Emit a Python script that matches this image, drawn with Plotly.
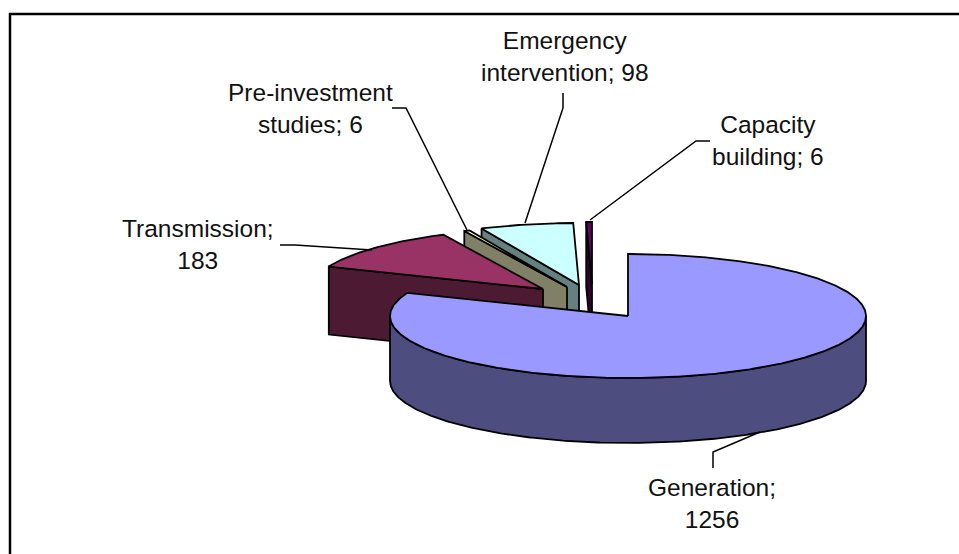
import numpy as np
import plotly.graph_objects as go

labels = ['Generation', 'Transmission', 'Pre-investment studies', 'Emergency intervention', 'Capacity building']
values = [1256, 183, 6, 98, 6]

top_colors = ['#9999FF', '#993366', '#FFFFCC', '#CCFFFF', '#660066']
side_colors = ['#4D4D80', '#4D1A33', '#808066', '#668080', '#330033']

# pie geometry, in picture pixels
CENTER_X, CENTER_Y = 628, 316
RX, RY = 238, 62
# how far each slice is pulled out of the pie, and its small size and depth differences
pull_x = [0, -85, -61, -49, -36]
pull_y = [0, -27, -29, -31, -32]
scale = [1, 0.97, 1, 1, 1]
depth = [65, 68, 65, 65, 65]

label_text = ['Generation;<br>1256', 'Transmission;<br>183', 'Pre-investment<br>studies; 6',
              'Emergency<br>intervention; 98', 'Capacity<br>building; 6']
label_x = [712, 198, 310, 565, 768]
label_y = [503, 244, 108, 56, 140]

leader_x = [[760, 713, 713], [372, 295, 280], [467, 406, 392], [525, 563, 563], [590, 696, 710]]
leader_y = [[432, 452, 468], [250, 245, 245], [230, 108, 108], [223, 108, 93], [220, 141, 141]]


def arc(start, end, cx, cy, k):
    t = np.radians(np.linspace(start, end, max(int(abs(end - start)) * 2, 2)))
    return cx + k * RX * np.sin(t), cy - k * RY * np.cos(t)


def poly(x, y, color):
    return go.Scatter(x=x, y=y, mode='lines', fill='toself', fillcolor=color,
                      line={'color': 'black', 'width': 1.8}, hoverinfo='skip', showlegend=False)


def slice_traces(i, start, end):
    cx, cy = CENTER_X + pull_x[i], CENTER_Y + pull_y[i]
    k, d = scale[i], depth[i]
    traces = []

    # cut face on the side turned to the viewer
    if i > 0:
        rx, ry = arc(start, start, cx, cy, k)
        traces.append(poly([cx, rx[0], rx[0], cx, cx],
                           [cy, ry[0], ry[0] + d, cy + d, cy], side_colors[i]))

    # outer wall, only where the rim is at the front
    lo, hi = max(start, 90), min(end, 270)
    if hi > lo:
        wx, wy = arc(lo, hi, cx, cy, k)
        traces.append(poly(np.r_[wx, wx[::-1], wx[0]], np.r_[wy, wy[::-1] + d, wy[0]], side_colors[i]))

    ax, ay = arc(start, end, cx, cy, k)
    traces.append(poly(np.r_[cx, ax, cx], np.r_[cy, ay, cy], top_colors[i]))
    return traces


fractions = np.array(values) / sum(values) * 360
ends = np.cumsum(fractions)
starts = ends - fractions

fig = go.Figure()
# back slices first, the big one last so it covers the others
for i in [4, 3, 2, 1, 0]:
    fig.add_traces(slice_traces(i, starts[i], ends[i]))

for lx, ly in zip(leader_x, leader_y):
    fig.add_trace(go.Scatter(x=lx, y=ly, mode='lines', line={'color': 'black', 'width': 1.5},
                             hoverinfo='skip', showlegend=False))

for t, x, y in zip(label_text, label_x, label_y):
    fig.add_annotation(x=x, y=y, text=t, showarrow=False, xanchor='center', yanchor='middle',
                       font={'family': 'Liberation Sans', 'size': 24.5, 'color': '#111111'})

# the frame runs past the right and bottom of the picture
fig.add_shape(type='rect', x0=10, y0=14, x1=990, y1=600, line={'color': 'black', 'width': 2.5})

fig.update_layout(width=959, height=554, margin={'l': 0, 'r': 0, 't': 0, 'b': 0},
                  paper_bgcolor='white', plot_bgcolor='white', showlegend=False,
                  xaxis={'range': [0, 959], 'visible': False, 'fixedrange': True},
                  yaxis={'range': [554, 0], 'visible': False, 'fixedrange': True})

fig.write_html("out.html", config={'displayModeBar': False},
               post_script="document.body.style.margin = '0';")
